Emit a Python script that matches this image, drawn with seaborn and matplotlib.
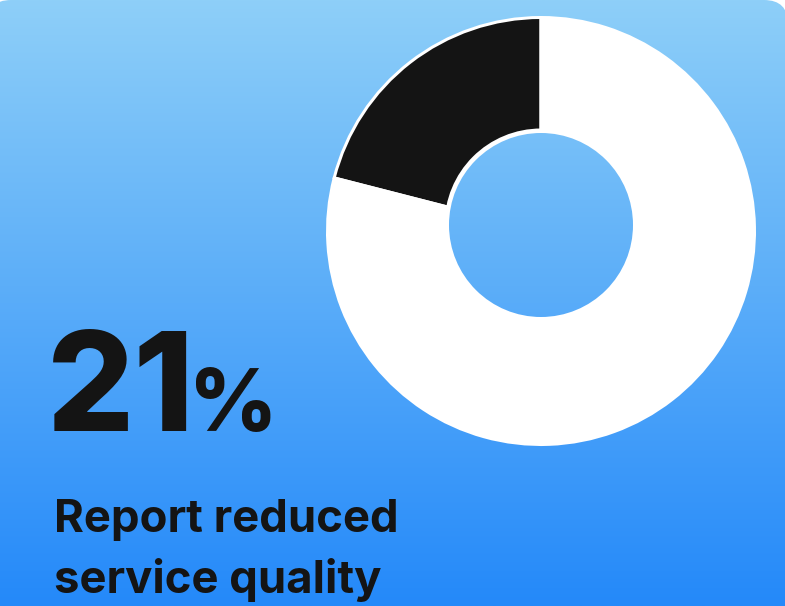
import numpy as np
import matplotlib
matplotlib.use("Agg")
import matplotlib.pyplot as plt
from matplotlib.patches import Circle, FancyBboxPatch
from matplotlib.font_manager import FontProperties, findfont, get_font
import seaborn as sns

# Survey share
share_labels = ["Report reduced service quality", "Other respondents"]
share_values = [21, 79]
headline_number = f"{share_values[0]}"
headline_unit = "%"
caption_lines = ["Report reduced", "service quality"]

W, H = 785, 606
DPI = 100
PX = 72 / DPI  # points per pixel

sns.set_theme(style="white")
plt.rcParams["font.family"] = ["Inter", "DejaVu Sans"]

fig = plt.figure(figsize=(W / DPI, H / DPI), dpi=DPI, facecolor="white")
ax = fig.add_axes([0, 0, 1, 1])


def Y(py):
    """Convert a top-down pixel row to the axes' bottom-up y."""
    return H - py


def text_at(ax, ink_left, y, s, size_px, weight, **kw):
    """Place a string so that its first glyph's ink starts at ink_left (pixels)."""
    prop = FontProperties(family="Inter", weight=weight, size=size_px * PX)
    font = get_font(findfont(prop))
    font.set_size(size_px * PX, DPI)
    g = font.load_char(ord(s[0]), flags=2)
    x = ink_left - g.horiBearingX / 64.0
    ax.text(x, y, s, fontproperties=prop, ha="left", va="baseline", **kw)


# vertical blue gradient used for the card and the donut hole
top_rgb = np.array([142, 207, 248]) / 255
bot_rgb = np.array([36, 137, 250]) / 255
t = np.linspace(0, 1, 400)[:, None]
grad = (top_rgb * (1 - t) + bot_rgb * t)[:, None, :]

card = FancyBboxPatch((-13 + 24, 0 - 40), 801 - 48, H + 40 - 24,
                      boxstyle="round,pad=24", transform=ax.transData,
                      facecolor="none", edgecolor="none")
ax.add_patch(card)
bg = ax.imshow(grad, extent=(0, W, 0, H), aspect="auto", zorder=0,
               interpolation="bilinear")
bg.set_clip_path(card)

# donut: slices from the shares, white separators
cx, cy, r_out = 541, Y(231), 213.5
palette = ["#141414", "#ffffff"]
ax.pie(share_values, colors=palette, startangle=90, counterclock=True,
       center=(cx, cy), radius=r_out, frame=True,
       wedgeprops=dict(edgecolor="white", linewidth=3 * PX, zorder=2))

hx, hy = 541, Y(225)
ax.add_patch(Circle((hx, hy), 96.5, facecolor="white", edgecolor="none", zorder=3))
hole = Circle((hx, hy), 92, facecolor="none", edgecolor="none", transform=ax.transData)
ax.add_patch(hole)
hole_img = ax.imshow(grad, extent=(0, W, 0, H), aspect="auto", zorder=4,
                     interpolation="bilinear")
hole_img.set_clip_path(hole)

ax.set_xlim(0, W)
ax.set_ylim(0, H)
ax.axis("off")

ink = "#141414"
text_at(ax, 53, Y(431), headline_number, 137, 800, color=ink, zorder=5)
text_at(ax, 196, Y(431), headline_unit, 86, 800, color=ink, zorder=5)

ax.text(54, Y(532), caption_lines[0], fontsize=45.5 * PX, fontweight="bold",
        color=ink, ha="left", va="baseline", zorder=5)
ax.text(54, Y(593), caption_lines[1], fontsize=45.5 * PX, fontweight="bold",
        color=ink, ha="left", va="baseline", zorder=5)

fig.savefig("out.png", dpi=DPI, facecolor="white")
